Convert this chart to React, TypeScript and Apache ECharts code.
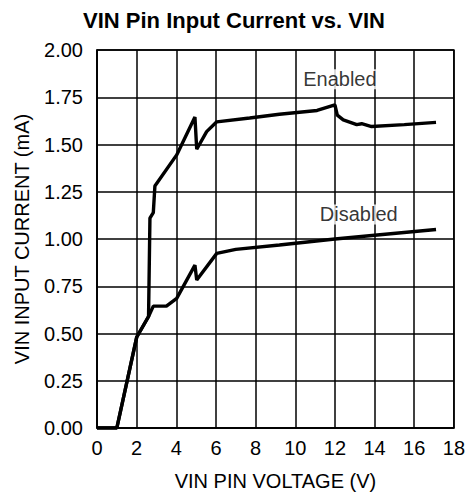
import React, { useEffect, useRef } from "react";
import * as echarts from "echarts";

const title = "VIN Pin Input Current vs. VIN";
const xName = "VIN PIN VOLTAGE (V)";
const yName = "VIN INPUT CURRENT (mA)";

const enabledV = [0, 1.0, 2.0, 2.6, 2.67, 2.84, 2.92, 4.02, 4.94, 5.03, 5.53, 6.04, 7.7, 9.2, 11.1, 12.0, 12.12, 12.42, 13.1, 13.35, 13.85, 15.5, 17.1];
const enabledI = [0, 0, 0.48, 0.59, 1.11, 1.14, 1.28, 1.445, 1.645, 1.475, 1.568, 1.62, 1.64, 1.66, 1.68, 1.71, 1.655, 1.63, 1.605, 1.61, 1.595, 1.605, 1.617];

const disabledV = [0, 1.0, 2.0, 2.6, 2.84, 3.5, 4.02, 4.94, 5.03, 6.04, 7.0, 9.2, 12.0, 14.0, 17.1];
const disabledI = [0, 0, 0.48, 0.59, 0.645, 0.645, 0.686, 0.862, 0.783, 0.924, 0.945, 0.968, 1.0, 1.02, 1.05];

const labelNames = ["Enabled", "Disabled"];
const labelV = [12.25, 13.2];
const labelI = [1.845, 1.13];

const xTicks = [0, 2, 4, 6, 8, 10, 12, 14, 16, 18];

export default function App() {
  const ref = useRef<HTMLDivElement>(null);
  useEffect(() => {
    if (!ref.current) return;
    const chart = echarts.init(ref.current, null, { renderer: "svg" });
    const font = "'Liberation Sans', Arial, sans-serif";
    chart.setOption({
      animation: false,
      backgroundColor: "#ffffff",
      title: {
        text: title,
        left: "center",
        top: 4,
        textStyle: { fontFamily: font, fontWeight: "bold", fontSize: 22, color: "#000" },
      },
      grid: {
        left: 97,
        right: 14,
        top: 50,
        bottom: 69,
        show: true,
        borderColor: "#000",
        borderWidth: 1.5,
      },
      xAxis: {
        type: "value",
        min: 0,
        max: 18,
        interval: 2,
        name: xName,
        nameLocation: "middle",
        nameGap: 43,
        nameTextStyle: { fontFamily: font, fontSize: 20, color: "#000" },
        axisLine: { show: true, lineStyle: { color: "#000", width: 1.5 } },
        axisTick: { show: false },
        axisLabel: { fontFamily: font, fontSize: 20, color: "#000", margin: 10, formatter: (v: number) => (xTicks.includes(v) ? String(v) : "") },
        splitLine: { show: true, lineStyle: { color: "#000", width: 1.5 } },
      },
      yAxis: {
        type: "value",
        min: 0,
        max: 2,
        interval: 0.25,
        name: yName,
        nameLocation: "middle",
        nameGap: 65,
        nameTextStyle: { fontFamily: font, fontSize: 20, color: "#000" },
        axisLine: { show: true, lineStyle: { color: "#000", width: 1.5 } },
        axisTick: { show: false },
        axisLabel: { fontFamily: font, fontSize: 20, color: "#000", margin: 14, formatter: (v: number) => v.toFixed(2) },
        splitLine: { show: true, lineStyle: { color: "#000", width: 1.5 } },
      },
      series: [
        {
          type: "line",
          name: "Enabled",
          data: enabledV.map((v, i) => [v, enabledI[i]]),
          showSymbol: false,
          lineStyle: { color: "#000", width: 3.4 },
          z: 5,
        },
        {
          type: "line",
          name: "Disabled",
          data: disabledV.map((v, i) => [v, disabledI[i]]),
          showSymbol: false,
          lineStyle: { color: "#000", width: 3.4 },
          z: 5,
        },
        {
          type: "scatter",
          symbolSize: 0,
          data: labelNames.map((n, i) => ({ name: n, value: [labelV[i], labelI[i]] })),
          label: {
            show: true,
            position: "inside",
            formatter: (p: any) => p.name,
            fontFamily: font,
            fontSize: 20,
            color: "#000",
            backgroundColor: "#fff",
            padding: [0, 1],
          },
          z: 6,
        },
      ],
    });
    return () => chart.dispose();
  }, []);
  return <div ref={ref} style={{ width: 468, height: 497, position: "absolute", left: 0, top: 0 }} />;
}
